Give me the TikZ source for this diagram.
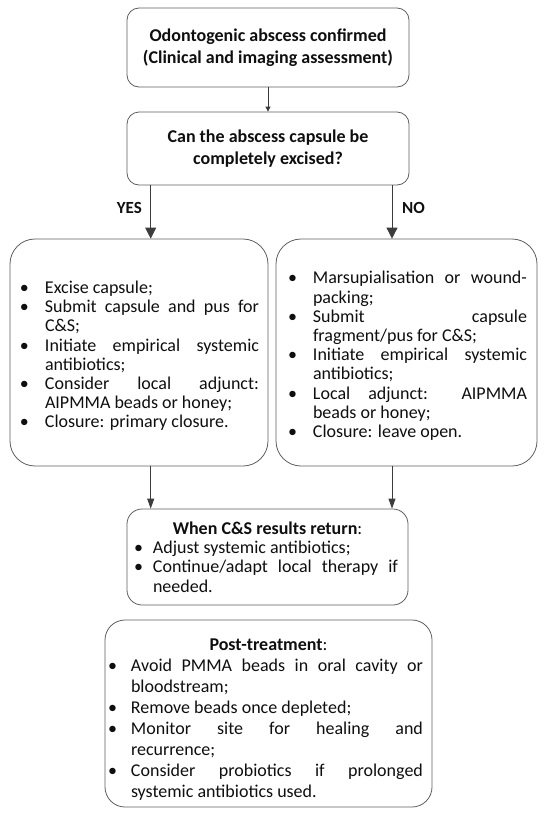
\documentclass[tikz,border=0pt]{standalone}
\usepackage{fontspec}
\setmainfont{Carlito}
\usetikzlibrary{arrows.meta}
\definecolor{bord}{RGB}{95,95,95}
\definecolor{arr}{RGB}{60,60,60}
\definecolor{txt}{RGB}{15,15,15}
\newlength\hangw
\newlength\buloff
\newcommand\bi{\par\noindent\hangindent=\hangw\hangafter=1\makebox[\hangw][l]{\hspace*{\buloff}\textbullet}\ignorespaces}
\tikzset{
  box/.style={draw=bord, line width=0.8pt, inner ysep=0pt, text=txt},
  titlebox/.style={box, rounded corners=12pt, align=center, inner xsep=0pt,
     font=\fontsize{18}{22.5}\selectfont\bfseries},
  listbox/.style={box, align=justify,
     font=\fontsize{18}{19.2}\selectfont},
  conn/.style={draw=arr, line width=0.8pt},
  smalltip/.style={conn, -{Triangle[width=5pt,length=5pt]}},
  bigtip/.style={conn, -{Triangle[width=11pt,length=11pt]}},
  midtip/.style={conn, -{Triangle[width=7pt,length=10pt]}},
  lab/.style={font=\fontsize{17}{19}\selectfont\bfseries, text=txt, inner sep=0pt}
}
\newcommand\setup{\hyphenpenalty=10000 \exhyphenpenalty=0 \tolerance=10000 \pretolerance=-1 \emergencystretch=0pt}
\begin{document}
\begin{tikzpicture}[x=1pt,y=-1pt]
\useasboundingbox (0,0) rectangle (550,822);
\fill[white] (0,0) rectangle (550,822);

\node[titlebox, minimum width=282pt, minimum height=79pt] (b1) at (268,47.5)
  {Odontogenic abscess confirmed\\(Clinical and imaging assessment)};
\node[titlebox, minimum width=282pt, minimum height=73pt] (b2) at (268,148.5)
  {Can the abscess capsule be\\completely excised?};

\node[listbox, rounded corners=25pt, text width=240pt, inner xsep=9pt,
      minimum height=227pt] (L) at (139,352.5)
  {\setup\setlength\hangw{26pt}\setlength\buloff{1pt}%
   \bi Excise capsule;
   \bi Submit capsule and pus for C\&S;
   \bi Initiate empirical systemic antibiotics;
   \bi Consider local adjunct: AIPMMA beads or honey;
   \bi Closure: primary closure.\par};

\node[listbox, rounded corners=25pt, text width=241pt, inner xsep=10pt,
      minimum height=227pt] (R) at (406.5,352.5)
  {\setup\setlength\hangw{27pt}\setlength\buloff{2pt}%
   \bi Marsupialisation or wound-\allowbreak packing;
   \bi Submit capsule\linebreak fragment/pus for C\&S;
   \bi Initiate empirical systemic antibiotics;
   \bi Local adjunct: AIPMMA beads or honey;
   \bi Closure: leave open.\par};

\node[listbox, rounded corners=15pt, text width=261pt, inner xsep=10pt,
      minimum height=96pt] (cs) at (267.5,557)
  {\setup\setlength\hangw{16pt}\setlength\buloff{-3pt}%
   {\centering\textbf{When C\&S results return}:\par}
   \bi Adjust systemic antibiotics;
   \bi Continue/adapt local therapy if needed.\par};

\node[listbox, rounded corners=20pt, text width=309pt, inner xsep=9pt,
      minimum height=187pt, font=\fontsize{18}{21}\selectfont] (post) at (268.5,713.5)
  {\setup\setlength\hangw{17pt}\setlength\buloff{-6pt}%
   {\centering\rule{0pt}{23pt}\textbf{Post-treatment}:\par}
   \bi Avoid PMMA beads in oral cavity or bloodstream;
   \bi Remove beads once depleted;
   \bi Monitor site for healing and\linebreak recurrence;
   \bi Consider probiotics if prolonged\linebreak systemic antibiotics used.\par};

\coordinate (yx) at (150.7,0);
\coordinate (nx) at (392,0);

\draw[smalltip] (b1.south) -- (b2.north);
\draw[bigtip] (b2.south -| yx) -- (L.north -| yx);
\draw[bigtip] (b2.south -| nx) -- (R.north -| nx);
\draw[midtip] (L.south -| yx) -- (cs.north -| yx);
\draw[midtip] (R.south -| nx) -- (cs.north -| nx);

\node[lab, anchor=east] (yes) at (142,208) {YES};
\node[lab, anchor=west] (no) at (402,208) {NO};
\end{tikzpicture}
\end{document}
